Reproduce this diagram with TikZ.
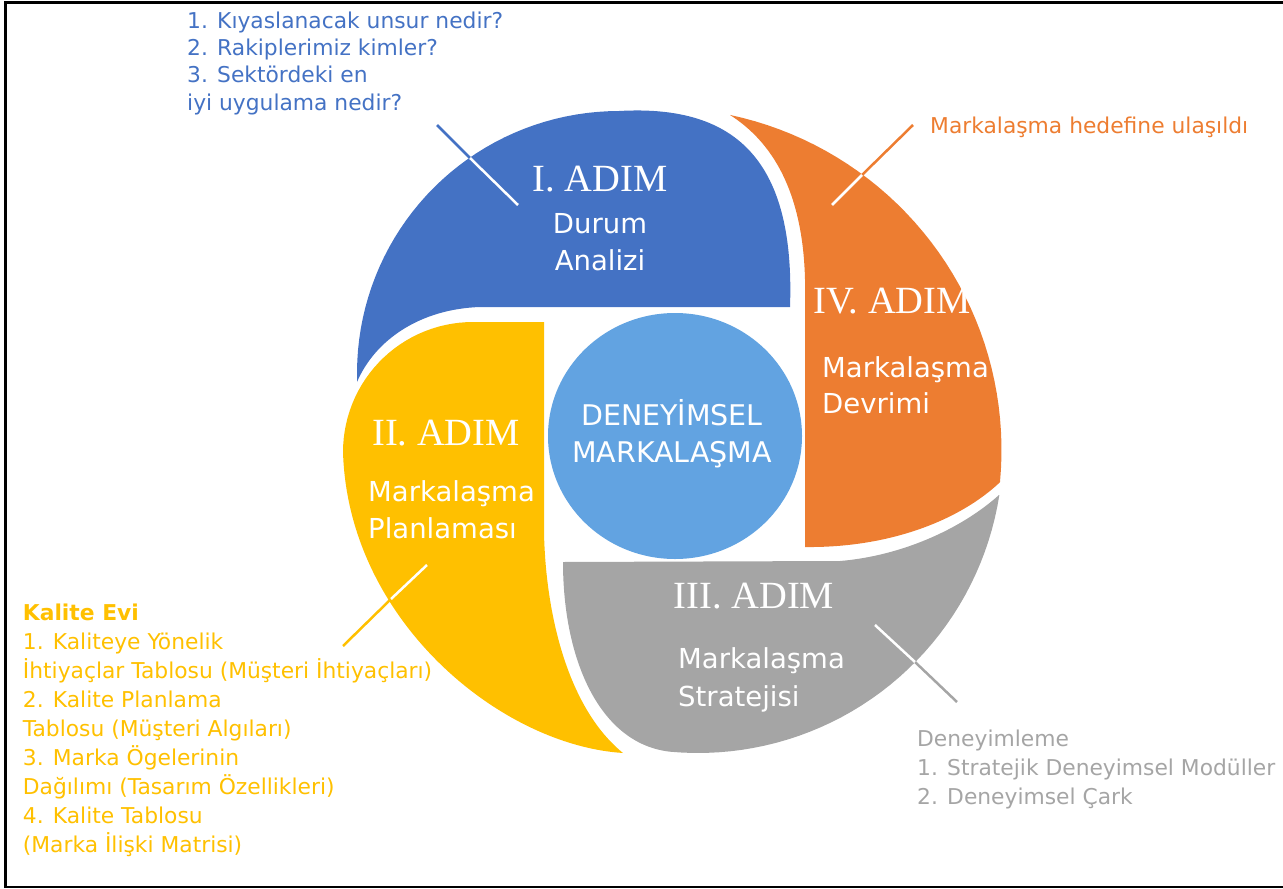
\documentclass[tikz,border=0pt]{standalone}
\usepackage{fontspec}
\setmainfont{DejaVu Sans}
\newfontfamily\adimfont{Liberation Serif}
\usetikzlibrary{shapes.geometric}
\definecolor{adimI}{RGB}{68,114,196}
\definecolor{adimII}{RGB}{255,192,0}
\definecolor{adimIII}{RGB}{165,165,165}
\definecolor{adimIV}{RGB}{237,125,49}
\definecolor{merkez}{RGB}{98,163,225}
\tikzset{
    adim/.style={font=\adimfont\fontsize{38.5}{40}\selectfont, text=white,
                 anchor=base, inner sep=0pt},
    altyazi/.style={font=\fontsize{27.5}{37}\selectfont, text=white,
                    inner sep=0pt},
    aciklama/.style={font=\fontsize{21.8}{29}\selectfont, align=left,
                     anchor=base west, inner sep=0pt},
    cizgi/.style={line width=2.5pt},
}

\begin{document}
\begin{tikzpicture}[x=1pt,y=-1pt]
    \useasboundingbox (0,0) rectangle (1283,889);
    \draw[line width=2.7pt] (5.3,2.8) rectangle (1300,887);

    % I. adim
    \fill[adimI] plot[domain=178:270, samples=40] ({619+262*cos(\x)},{373+262*sin(\x)})
        .. controls (740,104) and (795,165) .. (790,307)
        -- (480,307)
        .. controls (420,309) and (375,340) .. (357,382) -- cycle;
    % IV. adim
    \fill[adimIV] plot[domain=282:365.4, samples=40] ({659+342.5*cos(\x)},{450+342.5*sin(\x)})
        .. controls (960,520) and (890,548) .. (805,547)
        -- (805,300)
        .. controls (807,215) and (785,150) .. (730,115) -- cycle;
    % III. adim
    \fill[adimIII] plot[domain=8.9:95, samples=40] ({698+305*cos(\x)},{448+305*sin(\x)})
        .. controls (600,745) and (563,660) .. (563,562)
        -- (840,561)
        .. controls (900,556) and (960,530) .. (999,495) -- cycle;
    % II. adim
    \fill[adimII] (623,753) .. controls (500,745) and (348,620) .. (343,452)
        -- plot[domain=180:270, samples=30] ({473+130*cos(\x)},{452+130*sin(\x)})
        -- (544,322) -- (544,533)
        .. controls (546,620) and (570,710) .. (623,753) -- cycle;

    \node[ellipse, fill=merkez, minimum width=254pt, minimum height=246pt,
          inner sep=0pt] (merkez) at (675,436) {};
    \node[altyazi, font=\fontsize{28.5}{37}\selectfont, align=center, anchor=base]
        (merkezyazi) at (672,462) {DENEYİMSEL\\MARKALAŞMA};

    \node[adim] (t1) at (600,191) {I. ADIM};
    \node[adim] (t2) at (446,445) {II. ADIM};
    \node[adim] (t3) at (754,608) {III. ADIM};
    \node[adim] (t4) at (892,313) {IV. ADIM};

    \node[altyazi, align=center, anchor=base] (s1) at (600,270) {Durum\\Analizi};
    \node[altyazi, align=left, anchor=base west] (s2) at (368,538)
        {Markalaşma\\Planlaması};
    \node[altyazi, align=left, anchor=base west, font=\fontsize{27.5}{38}\selectfont]
        (s3) at (678,706) {Markalaşma\\Stratejisi};
    \node[altyazi, align=left, anchor=base west, font=\fontsize{27.5}{36}\selectfont]
        (s4) at (822,413) {Markalaşma\\Devrimi};

    % aciklamalar
    \node[aciklama, text=adimI, font=\fontsize{21.8}{27.3}\selectfont] (n1) at (187,110)
        {1. Kıyaslanacak unsur nedir?\\2. Rakiplerimiz kimler?\\
         3. Sektördeki en\\iyi uygulama nedir?};
    \node[aciklama, text=adimIV] (n4) at (930,133) {Markalaşma hedefine ulaşıldı};
    \node[aciklama, text=adimIII] (n3) at (917,804)
        {Deneyimleme\\1. Stratejik Deneyimsel Modüller\\2. Deneyimsel Çark};
    \node[aciklama, text=adimII] (n2) at (22.7,852)
        {\textbf{Kalite Evi}\\1. Kaliteye Yönelik\\
         İhtiyaçlar Tablosu (Müşteri İhtiyaçları)\\2. Kalite Planlama\\
         Tablosu (Müşteri Algıları)\\3. Marka Ögelerinin\\
         Dağılımı (Tasarım Özellikleri)\\4. Kalite Tablosu\\
         (Marka İlişki Matrisi)};

    \coordinate (c1a) at (437,125);
    \coordinate (c1m) at (470,158);
    \coordinate (c1b) at (518,205);
    \coordinate (c4a) at (913,125);
    \coordinate (c4m) at (862,175);
    \coordinate (c4b) at (832,205);
    \coordinate (c3a) at (957,702);
    \coordinate (c3m) at (915,662);
    \coordinate (c3b) at (875,625);
    \coordinate (c2a) at (343,646);
    \coordinate (c2m) at (391,599);
    \coordinate (c2b) at (427,565);
    \draw[cizgi, adimI] (c1a) -- (c1m);
    \draw[cizgi, white] (c1m) -- (c1b);
    \draw[cizgi, adimIV] (c4a) -- (c4m);
    \draw[cizgi, white] (c4m) -- (c4b);
    \draw[cizgi, adimIII] (c3a) -- (c3m);
    \draw[cizgi, white] (c3m) -- (c3b);
    \draw[cizgi, adimII] (c2a) -- (c2m);
    \draw[cizgi, white] (c2m) -- (c2b);
\end{tikzpicture}
\end{document}
